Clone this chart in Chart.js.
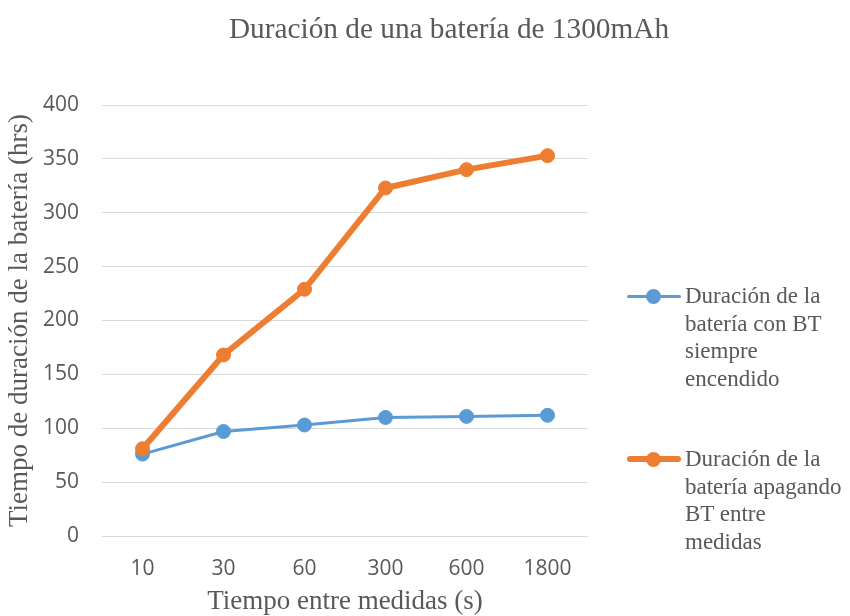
<!DOCTYPE html>
<html lang="es">
<head>
<meta charset="utf-8">
<title>Duración de una batería de 1300mAh</title>
<script src="https://cdn.jsdelivr.net/npm/chart.js@4.4.1/dist/chart.umd.min.js"></script>
<style>
  html, body { margin: 0; padding: 0; background: #ffffff; }
  #conteneur { position: relative; width: 850px; height: 616px; overflow: hidden; }
  #graphique { position: absolute; left: 0; top: 0; }
  #titre {
    position: absolute; top: 11px; left: 449px; transform: translateX(-50%);
    white-space: nowrap; color: #595959;
    font: 29.3px/34px "Liberation Serif", "Times New Roman", serif;
  }
  .legende { position: absolute; left: 627px; width: 0; height: 0; }
  .legende .trait { position: absolute; left: 0; width: 54px; }
  .legende .point { position: absolute; left: 19px; top: -7.5px; width: 15px; height: 15px; border-radius: 50%; }
  .legende .texte {
    position: absolute; left: 58px; top: -14px; white-space: nowrap; color: #595959;
    font: 23px/27.5px "Liberation Serif", "Times New Roman", serif;
  }
</style>
</head>
<body>
<div id="conteneur">
  <canvas id="graphique" width="850" height="616"></canvas>
  <div id="titre">Duración de una batería de 1300mAh</div>
</div>

<script>
// ==========================================================
// DONNÉES DU GRAPHIQUE
// ==========================================================
const tiempos = ["10", "30", "60", "300", "600", "1800"];

const duracionBTEncendido = [76, 97, 103, 110, 111, 112];
const duracionBTApagando = [81, 168, 229, 323, 340, 353];

const lignesLegendeEncendido = ["Duración de la", "batería con BT", "siempre", "encendido"];
const lignesLegendeApagando = ["Duración de la", "batería apagando", "BT entre", "medidas"];

const titreAxeX = "Tiempo entre medidas (s)";
const titreAxeY = "Tiempo de duración de la batería (hrs)";

// ==========================================================
// STYLES COMMUNS
// ==========================================================
const couleurTexte = "#595959";
const couleurGrille = "#d9d9d9";
const policeSerif = "'Liberation Serif', 'Times New Roman', serif";
const policeSans = "'Open Sans', 'Noto Sans', sans-serif";

const series = [
  { lignes: lignesLegendeEncendido, valeurs: duracionBTEncendido, couleur: "#5b9bd5", epaisseur: 3, haut: 296 },
  { lignes: lignesLegendeApagando, valeurs: duracionBTApagando, couleur: "#ed7d31", epaisseur: 6, haut: 459 }
];

// ==========================================================
// 1. GRAPHIQUE
// ==========================================================
const monGraphique = new Chart(document.getElementById("graphique").getContext("2d"), {
  type: "line",
  data: {
    labels: tiempos,
    datasets: series.map((s, i) => ({
      label: s.lignes.join(" "),
      data: s.valeurs,
      borderColor: s.couleur,
      backgroundColor: s.couleur,
      borderWidth: s.epaisseur,
      pointRadius: 7,
      pointHoverRadius: 7,
      pointBorderWidth: 1,
      pointBorderColor: s.couleur,
      pointBackgroundColor: s.couleur,
      tension: 0,
      fill: false,
      order: 2 - i // la série orange passe au-dessus
    }))
  },
  options: {
    responsive: false,
    animation: false,
    layout: { padding: { left: 0, right: 262, top: 105, bottom: 0 } },
    plugins: {
      legend: { display: false },
      title: { display: false },
      tooltip: { enabled: false }
    },
    scales: {
      x: {
        offset: true,
        grid: { display: false },
        border: { display: false },
        ticks: { color: couleurTexte, padding: 12, font: { family: policeSans, size: 21 } },
        title: {
          display: true, text: titreAxeX, color: couleurTexte,
          padding: { top: 0, bottom: -2 },
          font: { family: policeSerif, size: 27 }
        },
        afterFit: (axe) => { axe.height = 80; }
      },
      y: {
        min: 0,
        max: 400,
        grid: { color: couleurGrille, lineWidth: 1, drawTicks: false },
        border: { display: false },
        ticks: { stepSize: 50, color: couleurTexte, padding: 23, font: { family: policeSans, size: 21 } },
        title: {
          display: true, text: titreAxeY, color: couleurTexte,
          padding: { top: 4, bottom: 0 },
          font: { family: policeSerif, size: 27 }
        },
        afterFit: (axe) => { axe.width = 102; }
      }
    }
  }
});

// ==========================================================
// 2. LÉGENDE (texte sur plusieurs lignes)
// ==========================================================
const conteneur = document.getElementById("conteneur");
series.forEach((s) => {
  const bloc = document.createElement("div");
  bloc.className = "legende";
  bloc.style.top = s.haut + "px";

  const trait = document.createElement("div");
  trait.className = "trait";
  trait.style.height = s.epaisseur + "px";
  trait.style.top = (-s.epaisseur / 2) + "px";
  trait.style.background = s.couleur;
  trait.style.borderRadius = (s.epaisseur / 2) + "px";

  const point = document.createElement("div");
  point.className = "point";
  point.style.background = s.couleur;

  const texte = document.createElement("div");
  texte.className = "texte";
  s.lignes.forEach((ligne, i) => {
    if (i > 0) texte.appendChild(document.createElement("br"));
    texte.appendChild(document.createTextNode(ligne));
  });

  bloc.appendChild(trait);
  bloc.appendChild(point);
  bloc.appendChild(texte);
  conteneur.appendChild(bloc);
});
</script>
</body>
</html>
